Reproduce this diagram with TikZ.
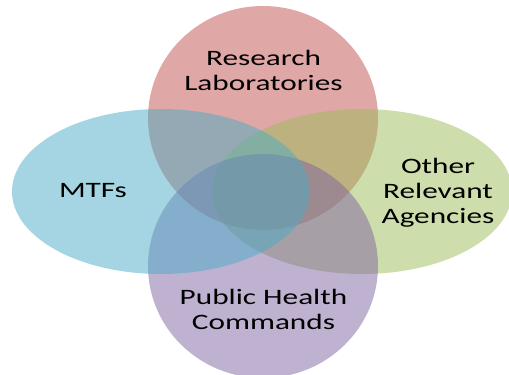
\documentclass[tikz,border=0pt]{standalone}
\usepackage{fontspec}
\setmainfont{Carlito}
\usepackage{tikz}
\definecolor{vred}{HTML}{C0504D}
\definecolor{vblue}{HTML}{4BACC6}
\definecolor{vgreen}{HTML}{9BBB59}
\definecolor{vpurple}{HTML}{8064A2}
\tikzset{blob/.style = {fill opacity=0.5}}
\tikzset{label/.style = {inner sep=0, align=center, text=black, xscale=1.42, transform shape,
                         font=\fontsize{22}{25}\selectfont}}

\begin{document}
\begin{tikzpicture}[x=1pt, y=1pt]
      \useasboundingbox (0, 0) rectangle (509, 375);
      \clip (0, 0) rectangle (509, 375);

      \fill [blob, vred] (263, 257) ellipse [x radius=115, y radius=112];
      \fill [blob, vgreen] (362, 183.5) ellipse [x radius=150, y radius=82.5];
      \fill [blob, vpurple] (263, 109) ellipse [x radius=115, y radius=112];
      \fill [blob, vblue] (161, 183.5) ellipse [x radius=149, y radius=82.5];

      \node [label] (research) at (263.5, 304.5) {Research\\Laboratories};
      \node [label] (mtfs) at (93, 184) {MTFs};
      \node [label] (other) at (438, 182.5) {Other\\Relevant\\Agencies};
      \node [label] (public) at (263.5, 66) {Public Health\\Commands};
    \end{tikzpicture}
\end{document}
